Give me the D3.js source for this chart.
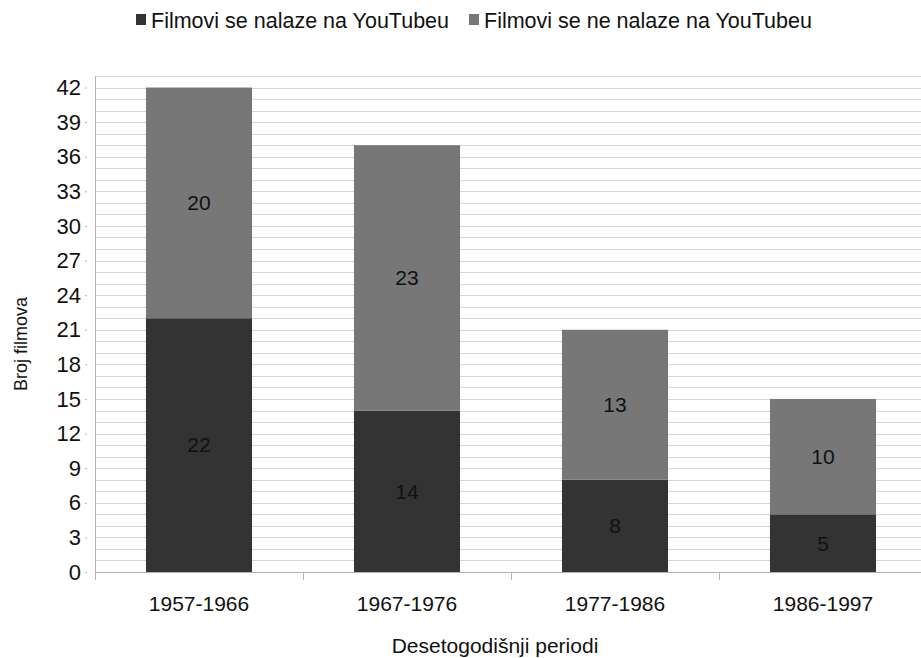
<!doctype html>
<html lang="hr">
<head>
<meta charset="UTF-8">
<title>Broj filmova</title>
<style>
    body { margin: 0; background: #fff; }
    svg { display: block; font-family: 'Liberation Sans', Arial, sans-serif; }
    .grid line { stroke: #d6d6d6; stroke-width: 1; }
    .axis path, .axis line { stroke: #b3b3b3; }
    .axis text { font-size: 21px; fill: #111; }
    .yaxis text { font-size: 22px; }
</style>
</head>
<body>
<div class="chart"></div>
<script src="https://cdn.jsdelivr.net/npm/d3@7"></script>
<script>
const periods = ['1957-1966', '1967-1976', '1977-1986', '1986-1997']
const onYoutube = [22, 14, 8, 5]
const notOnYoutube = [20, 23, 13, 10]
const seriesNames = ['Filmovi se nalaze na YouTubeu', 'Filmovi se ne nalaze na YouTubeu']
const seriesColors = ['#333333', '#777777']
const yTicks = d3.range(0, 43, 3)

const width = 921, height = 658
const margin = {top: 76, right: -6, bottom: 86, left: 95}
const innerW = width - margin.left - margin.right
const innerH = height - margin.top - margin.bottom

const svg = d3.select('.chart').append('svg')
    .attr('width', width)
    .attr('height', height)

const g = svg.append('g')
    .attr('transform', 'translate(' + margin.left + ',' + margin.top + ')')

const x = d3.scaleBand().domain(periods).range([0, innerW]).paddingInner(0.49).paddingOuter(0.245)
const xOuter = d3.scaleBand().domain(periods).range([0, innerW])
const y = d3.scaleLinear().domain([0, 43]).range([innerH, 0])

// gridlines, one per unit
g.append('g').attr('class', 'grid')
    .selectAll('line')
    .data(d3.range(0, 44))
    .enter().append('line')
    .attr('x1', 0).attr('x2', innerW)
    .attr('y1', d => Math.round(y(d)) + 0.5)
    .attr('y2', d => Math.round(y(d)) + 0.5)

// stacked data
const table = periods.map((p, i) => ({period: p, a: onYoutube[i], b: notOnYoutube[i]}))
const stacked = d3.stack().keys(['a', 'b'])(table)

const layers = g.selectAll('.layer')
    .data(stacked)
    .enter().append('g')
    .attr('class', 'layer')
    .attr('fill', (d, i) => seriesColors[i])

layers.selectAll('rect')
    .data(d => d)
    .enter().append('rect')
    .attr('x', d => x(d.data.period))
    .attr('width', x.bandwidth())
    .attr('y', d => y(d[1]))
    .attr('height', d => y(d[0]) - y(d[1]))

layers.selectAll('text')
    .data(d => d)
    .enter().append('text')
    .attr('x', d => x(d.data.period) + x.bandwidth() / 2)
    .attr('y', d => y((d[0] + d[1]) / 2))
    .attr('dy', '0.35em')
    .attr('text-anchor', 'middle')
    .attr('fill', '#111')
    .style('font-size', '21px')
    .text(d => d[1] - d[0])

// y axis
const yAxis = g.append('g').attr('class', 'axis yaxis')
    .call(d3.axisLeft(y).tickValues(yTicks).tickSize(8).tickPadding(6))
yAxis.select('.domain').attr('d', 'M0.5,' + (innerH + 8) + 'V0')
yAxis.selectAll('.tick line').attr('x1', -10)

// x axis with boundary ticks
const xAxis = g.append('g').attr('class', 'axis')
    .attr('transform', 'translate(0,' + innerH + ')')
xAxis.append('line')
    .attr('x1', 0).attr('x2', innerW)
    .attr('y1', 0.5).attr('y2', 0.5)
    .attr('stroke', '#c8c8c8')
xAxis.selectAll('.bound')
    .data(periods.slice(1))
    .enter().append('line')
    .attr('x1', d => Math.round(xOuter(d)) + 0.5)
    .attr('x2', d => Math.round(xOuter(d)) + 0.5)
    .attr('y1', 0).attr('y2', 8)
    .attr('stroke', '#c8c8c8')
xAxis.selectAll('.lab')
    .data(periods)
    .enter().append('text')
    .attr('x', d => x(d) + x.bandwidth() / 2)
    .attr('y', 39)
    .attr('text-anchor', 'middle')
    .attr('fill', '#111')
    .text(d => d)

// axis titles
svg.append('text')
    .attr('transform', 'translate(27,344) rotate(-90)')
    .attr('text-anchor', 'middle')
    .style('font-size', '18px')
    .attr('fill', '#111')
    .text('Broj filmova')

svg.append('text')
    .attr('x', 495)
    .attr('y', 653)
    .attr('text-anchor', 'middle')
    .style('font-size', '21px')
    .attr('fill', '#111')
    .text('Desetogodišnji periodi')

// legend
const legend = svg.append('g')
const legX = [136, 469]
seriesNames.forEach((name, i) => {
    legend.append('rect')
        .attr('x', legX[i]).attr('y', 14)
        .attr('width', 10).attr('height', 11)
        .attr('fill', seriesColors[i])
    legend.append('text')
        .attr('x', legX[i] + 15).attr('y', 28)
        .style('font-size', '21.5px')
        .attr('fill', '#111')
        .text(name)
})
</script>
</body>
</html>
